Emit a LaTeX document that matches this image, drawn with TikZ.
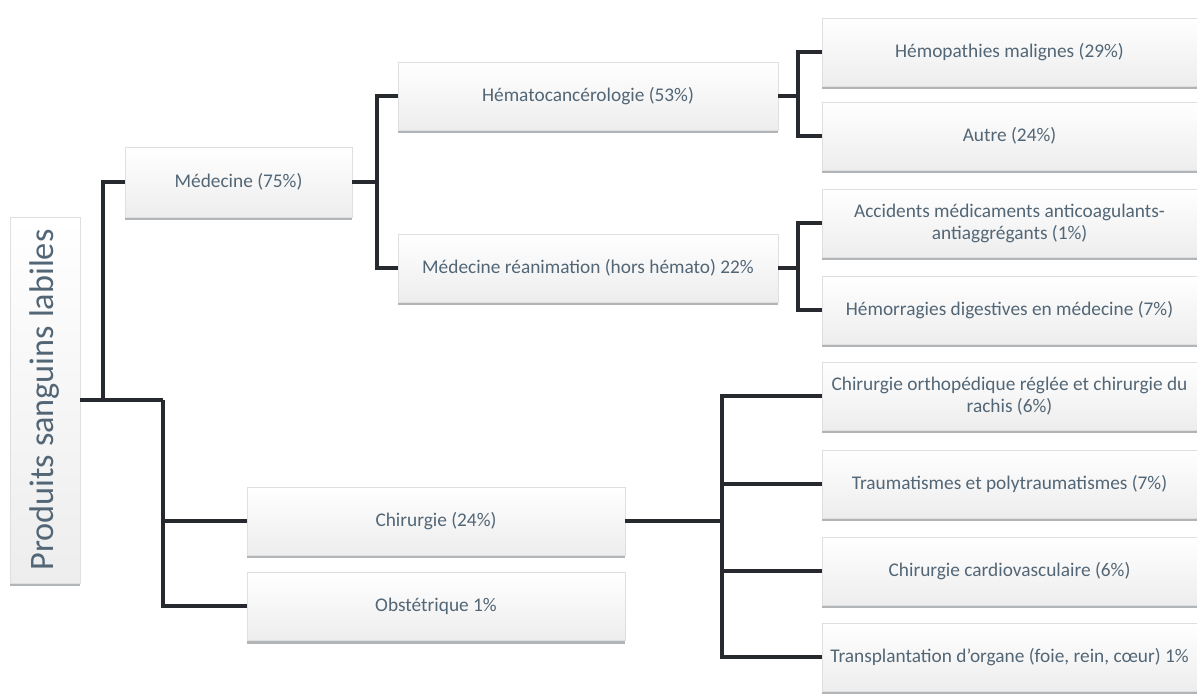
\documentclass[tikz,border=0pt]{standalone}
\usepackage{fontspec}
\setmainfont{Carlito}
\usetikzlibrary{shadows}
\definecolor{slate}{RGB}{82,102,118}
\definecolor{linkgray}{RGB}{38,42,46}
\tikzset{
  box/.style={draw=gray!25, line width=0.3pt, top color=white, bottom color=gray!14,
    drop shadow={shadow xshift=0pt, shadow yshift=-0.07cm, opacity=0.55, fill=gray!70!slate},
    minimum height=1.36cm, inner sep=0pt, align=center, text=slate,
    font=\fontsize{11}{12.5}\selectfont},
  link/.style={draw=linkgray, line width=2.3pt, line join=miter}
}
\begin{document}
\begin{tikzpicture}
\useasboundingbox (0,0) rectangle (23.94,13.86);
\draw (0.9,5.86)    node (root) [box, rotate=90, minimum width=7.32cm, minimum height=1.4cm,
  font=\fontsize{19.5}{22}\selectfont] {Produits sanguins labiles};

\draw (4.77,10.22)  node (med)   [box, minimum width=4.54cm, minimum height=1.4cm] {Médecine (75\%)};
\draw (8.72,3.44)   node (chir)  [box, minimum width=7.56cm] {Chirurgie (24\%)};
\draw (8.72,1.74)   node (obst)  [box, minimum width=7.56cm] {Obstétrique 1\%};
\coordinate (j1) at (2.06,5.86);
\coordinate (j2) at (3.26,5.86);
\draw[link] (root.south) -- (j2);
\draw[link] (j1) |- (med.west);
\draw[link] (j2) |- (chir.west);
\draw[link] (j2) |- (obst.west);

\draw (11.76,11.94) node (hemato) [box, minimum width=7.6cm] {Hématocancérologie (53\%)};
\draw (11.76,8.5)   node (reanim) [box, minimum width=7.6cm] {Médecine réanimation (hors hémato) 22\%};
\coordinate (j3) at (7.54,10.22);
\draw[link] (med.east) -- (j3);
\draw[link] (j3) |- (hemato.west);
\draw[link] (j3) |- (reanim.west);

\draw (20.19,12.82) node (hemopath) [box, minimum width=7.5cm] {Hémopathies malignes (29\%)};
\draw (20.19,11.14) node (autre)    [box, minimum width=7.5cm] {Autre (24\%)};
\coordinate (j4) at (15.96,11.94);
\draw[link] (hemato.east) -- (j4);
\draw[link] (j4) |- (hemopath.west);
\draw[link] (j4) |- (autre.west);

\draw (20.19,9.4)   node (accid)  [box, minimum width=7.5cm] {Accidents médicaments anticoagulants-\\antiaggrégants (1\%)};
\draw (20.19,7.66)  node (hemorr) [box, minimum width=7.5cm] {Hémorragies digestives en médecine (7\%)};
\coordinate (j5) at (15.96,8.5);
\draw[link] (reanim.east) -- (j5);
\draw[link] (j5) |- (accid.west);
\draw[link] (j5) |- (hemorr.west);

\draw (20.19,5.94)  node (ortho)   [box, minimum width=7.5cm] {Chirurgie orthopédique réglée et chirurgie du\\rachis (6\%)};
\draw (20.19,4.18)  node (trauma)  [box, minimum width=7.5cm] {Traumatismes et polytraumatismes (7\%)};
\draw (20.19,2.44)  node (cardio)  [box, minimum width=7.5cm] {Chirurgie cardiovasculaire (6\%)};
\draw (20.19,0.72)  node (transpl) [box, minimum width=7.5cm] {Transplantation d'organe (foie, rein, cœur) 1\%};
\coordinate (j6) at (14.44,3.44);
\draw[link] (chir.east) -- (j6);
\draw[link] (j6) |- (ortho.west);
\draw[link] (j6) |- (trauma.west);
\draw[link] (j6) |- (cardio.west);
\draw[link] (j6) |- (transpl.west);
\end{tikzpicture}
\end{document}
